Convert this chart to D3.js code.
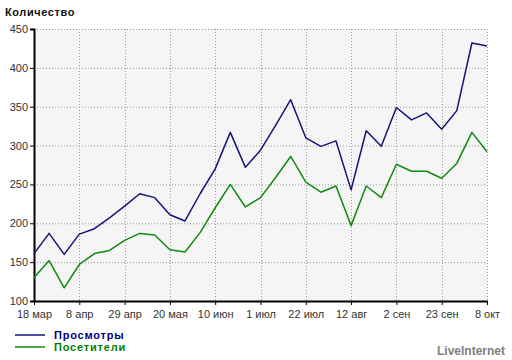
<!DOCTYPE html>
<html><head><meta charset="utf-8">
<script src="https://cdn.jsdelivr.net/npm/d3@7"></script>
<style>body{margin:0;background:#fff}svg{display:block}</style>
</head><body>
<svg id="c" width="512" height="360"></svg>
<script>
const xLabels = ["18 мар","8 апр","29 апр","20 мая","10 июн","1 июл","22 июл","12 авг","2 сен","23 сен","8 окт"];
const views = [161,187,160,186,193,207,222,238,233,211,203,238,270,317,272,294,326,359,310,299,306,243,319,299,349,333,342,321,345,432,428];
const visitors = [130,152,117,147,161,165,178,187,185,166,163,188,220,250,221,233,259,286,253,240,248,197,248,233,276,267,267,258,277,317,292];
const yTicks = [100,150,200,250,300,350,400,450];
const seriesNames = ["Просмотры","Посетители"];
const seriesColors = ["#14147a","#128a12"];

const svg = d3.select("#c");
const L = 34, R = 487, T = 29, B = 301;
const x = d3.scaleLinear().domain([0, views.length-1]).range([L, R]);
const y = d3.scaleLinear().domain([100,450]).range([B, T]);
const font = "'Liberation Sans', Arial, sans-serif";

svg.append("rect").attr("x",L).attr("y",T).attr("width",R-L).attr("height",B-T).attr("fill","#f5f5f5");

const tickIdx = xLabels.map((d,i)=> i===xLabels.length-1 ? views.length-1 : i*3);

// grid
svg.append("g").selectAll("line").data(yTicks.slice(1)).join("line")
  .attr("x1",L).attr("x2",R).attr("y1",d=>y(d)+0.5).attr("y2",d=>y(d)+0.5)
  .attr("stroke","#999").attr("stroke-dasharray","1,2");
svg.append("g").selectAll("line").data(tickIdx.slice(1)).join("line")
  .attr("x1",d=>Math.round(x(d))+0.5).attr("x2",d=>Math.round(x(d))+0.5).attr("y1",T).attr("y2",B)
  .attr("stroke","#999").attr("stroke-dasharray","1,2");

// axes
const ya = d3.axisLeft(y).tickValues(yTicks).tickSize(4).tickPadding(2);
const gy = svg.append("g").attr("transform",`translate(${L},0)`).call(ya);
gy.select(".domain").attr("stroke","#000").attr("stroke-width",2);
gy.selectAll(".tick line").attr("stroke","#000");
gy.selectAll("text").attr("font-family",font).attr("font-size",11).attr("fill","#333");

const xa = d3.axisBottom(x).tickValues(tickIdx).tickFormat((d,i)=>xLabels[i]).tickSize(4).tickPadding(5).tickSizeOuter(0);
const gx = svg.append("g").attr("transform",`translate(0,${B})`).call(xa);
gx.select(".domain").attr("stroke","#000").attr("stroke-width",2);
gx.selectAll(".tick line").attr("stroke","#000");
gx.selectAll("text").attr("font-family",font).attr("font-size",11).attr("fill","#333");

// lines
const line = d3.line().x((d,i)=>x(i)).y(d=>y(d));
[views, visitors].forEach((s,k)=>{
  svg.append("path").datum(s).attr("d",line).attr("fill","none")
    .attr("stroke",seriesColors[k]).attr("stroke-width",1.5).attr("stroke-linejoin","round");
});

// title
svg.append("text").attr("x",5).attr("y",16).text("Количество")
  .attr("font-family",font).attr("font-size",11).attr("font-weight","bold").attr("letter-spacing",0.6).attr("fill","#111");

// legend
seriesNames.forEach((n,k)=>{
  const ly = 335 + k*12;
  svg.append("line").attr("x1",15).attr("x2",45).attr("y1",ly).attr("y2",ly)
    .attr("stroke",seriesColors[k]).attr("stroke-width",1.5);
  svg.append("text").attr("x",54).attr("y",ly+4).text(n)
    .attr("font-family",font).attr("font-size",11).attr("font-weight","bold").attr("letter-spacing",0.8)
    .attr("fill",k===0?"#000080":"#008000");
});

svg.append("text").attr("x",505).attr("y",355).attr("text-anchor","end").text("LiveInternet")
  .attr("font-family",font).attr("font-size",12).attr("font-weight","bold").attr("fill","#808080");
</script>
</body></html>
